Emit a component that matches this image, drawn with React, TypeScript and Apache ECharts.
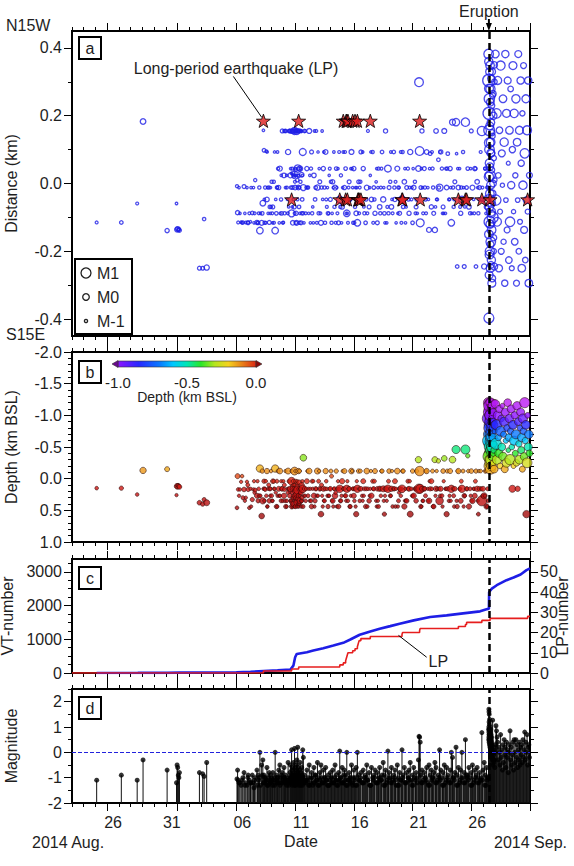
import React, { useEffect, useRef } from 'react';
import * as echarts from 'echarts';

// Time is counted in days from 2014-08-23 00:00 local time.
const DAY_MIN = 0;
const DAY_MAX = 39;
const ERUPTION_DAY = 35.5; // 2014-09-27 ~11:52

// Date axis
const dateLabelDays = [3.5, 8.5, 14.5, 19.5, 24.5, 29.5, 34.5];
const dateLabels = ['26', '31', '06', '11', '16', '21', '26'];
const majorDayTicks = [3, 9, 14, 19, 24, 29, 34, 39];
const dailyTicks = Array.from({ length: DAY_MAX + 1 }, (_, i) => i);

// Panel (a): distance along N15W
const distLabels = [-0.4, -0.2, 0, 0.2, 0.4];
const distMinor = [-0.3, -0.1, 0.1, 0.3];
// Panel (b): depth
const depthLabels = [-2, -1.5, -1, -0.5, 0, 0.5, 1];
const depthMinor = [-1.9, -1.8, -1.7, -1.6, -1.4, -1.3, -1.2, -1.1, -0.9, -0.8, -0.7, -0.6, -0.4, -0.3, -0.2, -0.1, 0.1, 0.2, 0.3, 0.4, 0.6, 0.7, 0.8, 0.9];
// Panel (c): cumulative numbers
const vtLabels = [0, 1000, 2000, 3000];
const vtMinor = [250, 500, 750, 1250, 1500, 1750, 2250, 2500, 2750, 3250];
const lpLabels = [0, 10, 20, 30, 40, 50];
const lpMinor = [5, 15, 25, 35, 45, 55];
// Panel (d): magnitude
const magLabels = [-2, -1, 0, 1, 2];
const magMinor = [-1.5, -0.5, 0.5, 1.5, 2.5];

// Hypocentres: [day, distance (km, +N15W), depth (km BSL), magnitude]
type Quake = [number, number, number, number];

const preSwarmEvents: Quake[] = [
  [2.1, -0.115, 0.15, -1.1], [4.2, -0.115, 0.15, -0.9], [5.55, -0.059, 0.25, -1.1],
  [6.05, 0.183, -0.13, -0.3], [8.1, -0.139, -0.15, -0.7], [8.9, -0.059, 0.26, -1.2],
  [8.95, -0.136, 0.12, -0.5], [9.0, -0.134, 0.12, -0.6], [9.05, -0.137, 0.11, -0.9],
  [9.1, -0.135, 0.12, -1.0], [9.15, -0.138, 0.13, -0.8], [10.85, -0.25, 0.38, -0.8],
  [11.13, -0.25, 0.4, -0.85], [11.25, -0.105, 0.33, -0.95], [11.47, -0.248, 0.38, -0.4],
];

const swarmEvents: Quake[] = [
  [14.05, -0.008, 0.46, -1.05], [14.1, -0.086, -0.04, -0.7], [14.15, -0.115, 0.17, -1.1],
  [14.4, -0.114, 0.05, -1.3], [14.65, -0.009, 0.17, -0.8], [14.8, -0.115, 0.3, -1.2],
  [15.0, -0.116, 0.17, -0.9], [15.2, -0.113, 0.16, -1.2], [15.35, -0.087, 0.33, -0.9],
  [15.5, -0.116, 0.04, -1.4], [15.6, 0.01, 0.18, -1.0], [15.75, -0.115, 0.27, -0.7],
  [15.9, -0.088, 0.16, -1.1], [16.0, -0.139, -0.16, 0.0], [16.15, -0.116, 0.59, -0.5],
  [16.25, -0.058, 0.35, -0.3], [16.3, 0.157, 0.16, -1.2], [16.35, 0.098, 0.04, -0.9],
  [16.45, -0.012, 0.17, -1.0], [16.55, 0.095, 0.27, -1.1], [16.6, -0.047, -0.12, -0.6],
  [16.7, -0.088, 0.16, -1.3], [16.8, -0.115, 0.35, -0.8], [16.9, -0.012, 0.16, -1.2],
  [17.0, 0.005, 0.27, -1.0], [17.1, -0.069, 0.04, -0.8], [17.2, -0.116, 0.16, -1.1],
  [17.3, -0.139, -0.16, 0.0], [17.4, -0.088, 0.44, -0.9], [17.5, 0.093, 0.27, -1.2],
  [17.6, -0.012, 0.16, -0.7], [17.7, 0.044, -0.12, -0.5], [17.8, -0.047, 0.35, -1.0],
  [17.9, 0.155, 0.16, -0.8], [18.0, -0.115, 0.04, -1.2], [18.05, 0.024, 0.27, -0.6],
  [18.1, -0.088, 0.17, -1.0], [18.2, 0.155, 0.44, -0.9], [18.3, -0.012, 0.35, -1.1],
  [18.4, 0.093, -0.12, -0.4], [18.45, -0.069, 0.16, -1.3],
  [18.55, 0.155, 0.27, -0.8], [18.6, 0.024, 0.16, -0.5], [18.65, -0.012, 0.35, -1.0],
  [18.7, -0.088, 0.04, 0.1], [18.72, 0.154, 0.44, -0.7], [18.75, 0.044, 0.22, -1.1],
  [18.8, -0.116, 0.16, -0.6], [18.82, 0.03, 0.3, -0.9], [18.85, -0.047, 0.1, -1.2],
  [18.88, 0.155, 0.4, -0.4], [18.9, 0.02, 0.16, -1.0], [18.93, -0.069, 0.27, -0.8],
  [18.95, 0.155, -0.12, 0.15], [18.98, 0.005, 0.35, -1.1], [19.0, -0.012, 0.2, -0.6],
  [19.02, 0.04, 0.44, -0.9], [19.05, 0.157, 0.04, -1.0], [19.08, -0.088, 0.3, -0.7],
  [19.1, 0.024, 0.16, -1.2], [19.12, -0.116, 0.38, -0.5], [19.15, 0.153, 0.25, -0.3],
  [19.18, 0.01, 0.12, -0.9], [19.2, -0.047, 0.44, -1.1], [19.22, 0.044, 0.18, 0.2],
  [19.25, 0.155, 0.32, -0.8], [19.28, -0.012, -0.12, -0.6], [19.3, 0.022, 0.4, -1.0],
  [19.33, -0.069, 0.16, -0.9], [19.36, 0.155, 0.06, -0.7], [19.4, -0.088, 0.27, -1.2],
  [19.42, 0.044, 0.35, -0.4], [19.45, 0.005, 0.16, -1.0], [19.5, -0.116, 0.22, -0.8],
  [19.53, 0.154, 0.44, -1.1], [19.56, 0.026, 0.1, -0.6], [19.6, -0.047, 0.3, -0.9],
  [19.65, 0.093, 0.16, 0.1], [19.7, -0.012, -0.33, -0.2],
  [19.8, 0.155, 0.16, -0.9], [19.9, -0.088, 0.35, -1.1], [20.0, 0.044, 0.04, -0.7],
  [20.1, -0.012, 0.27, -1.0], [20.2, 0.155, -0.12, -0.5], [20.3, -0.116, 0.16, -1.2],
  [20.4, 0.093, 0.44, -0.8], [20.5, -0.069, 0.16, -1.3], [20.6, 0.024, 0.27, -0.6],
  [20.7, -0.047, 0.35, -0.9], [20.8, 0.155, 0.16, -1.1], [20.9, -0.012, -0.12, -0.4],
  [21.0, -0.088, 0.04, -1.0], [21.1, 0.005, 0.16, -0.8], [21.2, -0.116, 0.56, -0.5],
  [21.3, 0.155, 0.27, -1.2], [21.4, 0.044, 0.16, -0.7], [21.5, -0.012, 0.35, -1.0],
  [21.6, 0.093, -0.12, -0.6], [21.7, -0.069, 0.16, -1.1], [21.8, -0.088, 0.44, -0.9],
  [21.9, 0.024, 0.27, -1.3], [22.0, -0.047, 0.16, -0.8], [22.1, -0.116, -0.04, -1.0],
  [22.2, 0.005, 0.35, -0.7], [22.3, 0.093, 0.16, -1.2], [22.4, -0.012, 0.27, -0.5],
  [22.5, 0.044, -0.12, -0.9], [22.6, -0.088, 0.16, -1.1], [22.7, -0.116, 0.44, -0.8],
  [22.8, -0.047, 0.16, 0.05], [22.9, 0.024, 0.35, -1.0], [23.0, -0.069, 0.04, -0.6],
  [23.1, 0.093, 0.16, -1.2], [23.2, -0.012, -0.12, -0.7], [23.3, 0.044, 0.27, -0.9],
  [23.4, -0.088, 0.16, 0.0], [23.5, -0.116, 0.35, -1.1], [23.6, 0.005, 0.16, -0.8],
  [23.7, -0.047, 0.44, -1.0], [23.8, 0.093, -0.12, -0.5], [23.9, -0.012, 0.16, -1.3],
  [24.0, 0.044, 0.27, -0.7], [24.1, -0.069, 0.16, -1.0], [24.2, -0.088, 0.56, -0.6],
  [24.3, -0.116, 0.16, 0.0], [24.4, 0.005, -0.12, -0.9], [24.5, -0.012, 0.35, -1.1],
  [24.6, 0.093, 0.16, -0.8], [24.7, -0.047, 0.27, -1.2], [24.8, 0.044, 0.04, -0.7],
  [24.9, -0.088, 0.16, -1.0], [25.0, -0.116, 0.44, -0.9], [25.1, -0.012, -0.12, -0.5],
  [25.2, 0.155, 0.16, -1.1], [25.3, -0.069, 0.35, -0.8], [25.4, 0.024, 0.16, -1.3],
  [25.5, -0.047, 0.27, -0.6], [25.6, 0.093, 0.04, -1.0], [25.7, -0.012, 0.16, -0.9],
  [25.8, -0.088, -0.12, -0.7], [25.9, 0.005, 0.35, -1.2], [26.0, -0.116, 0.16, -0.8],
  [26.1, 0.044, 0.44, -1.0], [26.2, -0.069, 0.16, -0.6], [26.3, -0.012, 0.27, -1.1],
  [26.4, 0.093, -0.12, -0.9], [26.5, -0.047, 0.16, -0.4], [26.6, -0.088, 0.56, -0.9],
  [26.7, 0.155, 0.16, -0.7], [26.8, -0.116, 0.35, -1.2], [26.9, 0.044, 0.16, 0.05],
  [27.0, -0.012, -0.12, -0.8], [27.1, 0.005, 0.27, -1.0], [27.2, -0.069, 0.16, -0.6],
  [27.3, -0.088, 0.44, -1.1], [27.4, 0.093, 0.16, -0.9], [27.5, -0.047, 0.04, -0.7],
  [27.6, -0.116, 0.16, -1.3], [27.7, 0.044, -0.12, -0.5], [27.8, -0.012, 0.35, -1.0],
  [27.9, -0.088, 0.16, -0.8], [28.0, 0.093, 0.27, -1.1], [28.1, -0.047, 0.16, 0.1],
  [28.2, -0.069, -0.12, -0.9], [28.3, 0.005, 0.44, -0.6], [28.4, -0.116, 0.16, -1.2],
  [28.5, -0.012, 0.35, -0.8], [28.6, 0.044, 0.04, -1.0], [28.7, -0.088, 0.16, -0.7],
  [28.8, 0.093, 0.56, -0.4], [28.9, -0.047, 0.16, -1.1], [29.0, -0.116, -0.12, -0.9],
  [29.1, -0.012, 0.27, -0.6], [29.2, 0.005, 0.16, -1.0], [29.3, -0.069, 0.35, -0.8],
  [29.4, -0.088, 0.16, -1.2], [29.5, 0.044, -0.3, -0.3], [29.55, 0.299, 0.16, 0.63],
  [29.6, 0.096, -0.12, 0.6], [29.65, -0.116, 0.16, 0.4], [29.7, -0.012, 0.44, -0.9],
  [29.8, 0.155, 0.16, -0.7], [29.9, -0.088, 0.35, -1.1],
  [30.0, 0.044, 0.16, -0.8], [30.1, -0.047, 0.27, -1.0], [30.2, 0.093, -0.12, -0.6],
  [30.3, -0.012, 0.16, -1.2], [30.4, -0.137, 0.35, -0.5], [30.5, 0.088, 0.16, -0.9],
  [30.6, -0.069, 0.04, -0.7], [30.7, 0.044, -0.12, -1.0], [30.8, -0.088, 0.44, -0.8],
  [30.9, -0.137, -0.3, -0.4], [31.0, 0.155, 0.16, -0.6], [31.1, -0.047, 0.16, -1.1],
  [31.2, 0.07, -0.28, -0.9], [31.3, -0.012, 0.35, 0.1], [31.4, 0.093, 0.16, -0.7],
  [31.5, 0.044, 0.27, -1.0], [31.6, -0.069, -0.12, -0.8], [31.7, 0.155, -0.32, -0.5],
  [31.8, -0.088, 0.16, -1.2], [31.9, -0.012, 0.56, -0.6], [32.0, 0.088, 0.16, -0.9],
  [32.1, -0.047, 0.35, -1.1], [32.2, 0.044, -0.12, -0.7], [32.3, -0.116, 0.16, 0.0],
  [32.4, 0.181, -0.3, -0.2], [32.5, -0.069, 0.27, -1.0], [32.6, 0.005, 0.16, -0.8],
  [32.7, 0.181, -0.46, 0.2], [32.8, -0.245, 0.44, -0.9], [32.9, -0.012, -0.12, -0.6],
  [33.0, 0.044, 0.16, -1.2], [33.1, -0.088, 0.35, -0.7], [33.2, -0.047, 0.16, 0.0],
  [33.3, 0.093, -0.12, -1.0], [33.4, -0.245, 0.27, -0.8], [33.5, 0.181, -0.46, 0.5],
  [33.6, -0.012, 0.16, -0.9], [33.7, 0.044, -0.36, -0.9], [33.8, -0.069, 0.44, -0.6],
  [33.9, -0.088, 0.16, -1.0], [34.0, 0.155, -0.12, -0.8], [34.1, -0.012, 0.35, -0.5],
  [34.2, -0.047, 0.16, -1.2], [34.3, 0.044, 0.27, -0.7], [34.4, -0.245, -0.12, -0.9],
  [34.5, 0.005, 0.16, -0.6], [34.6, -0.088, 0.56, -1.0], [34.7, -0.012, 0.16, -0.8],
  [34.8, 0.093, -0.12, -1.1], [34.9, 0.155, 0.35, 0.78], [35.0, -0.047, 0.16, -0.7],
  [35.1, -0.245, 0.27, -0.4], [35.2, 0.044, -0.12, -0.9], [35.3, -0.069, 0.44, -0.6],
  [35.4, -0.012, 0.16, -1.0],
];

// Smaller swarm events (M < -0.8) between the larger ones
const swarmSmallEvents: Quake[] = [
  [14.3, -0.088, 0.17, -1.2], [14.55, -0.115, 0.3, -1.0], [14.9, -0.012, 0.05, -1.3],
  [15.1, -0.088, 0.46, -1.1], [15.45, -0.012, 0.17, -1.2], [15.85, -0.116, 0.35, -0.9],
  [16.05, -0.088, 0.27, -1.3], [16.4, -0.116, 0.16, -1.0], [16.65, -0.012, 0.44, -1.2],
  [16.85, -0.069, 0.16, -0.9], [17.05, -0.088, 0.35, -1.1], [17.25, 0.093, 0.16, -1.3],
  [17.45, -0.012, 0.04, -1.0], [17.65, -0.116, 0.27, -1.2], [17.85, -0.088, 0.16, -0.9],
  [18.15, 0.155, 0.35, -1.1], [18.35, -0.047, 0.16, -1.2], [18.58, 0.155, 0.2, -1.0],
  [18.68, 0.03, 0.38, -1.2], [18.78, -0.012, 0.12, -0.9], [18.87, 0.155, 0.3, -1.1],
  [18.97, 0.024, 0.44, -1.3], [19.07, -0.116, 0.16, -1.0], [19.17, 0.155, 0.08, -1.2],
  [19.27, 0.044, 0.27, -0.9], [19.37, -0.012, 0.4, -1.1], [19.47, 0.155, 0.16, -1.3],
  [19.57, -0.088, 0.35, -1.0], [19.75, -0.116, 0.27, -1.2], [19.95, -0.012, 0.16, -1.1],
  [20.15, -0.088, 0.16, -1.3], [20.35, 0.044, 0.35, -1.0], [20.55, -0.116, 0.04, -1.2],
  [20.75, -0.012, 0.16, -0.9], [20.95, 0.093, 0.27, -1.3], [21.15, -0.088, 0.16, -1.1],
  [21.35, -0.047, 0.44, -1.2], [21.55, -0.116, 0.16, -1.0], [21.75, -0.012, 0.27, -1.3],
  [21.95, 0.044, 0.16, -1.1], [22.15, -0.088, 0.35, -1.2], [22.35, -0.069, 0.16, -1.0],
  [22.55, -0.012, 0.44, -1.3], [22.75, 0.093, 0.16, -1.1], [22.95, -0.116, 0.27, -1.2],
  [23.15, -0.047, 0.16, -0.9], [23.35, -0.088, 0.35, -1.3], [23.55, -0.012, 0.16, -1.1],
  [23.75, 0.044, 0.27, -1.2], [23.95, -0.116, 0.16, -1.0], [24.15, -0.012, 0.44, -1.3],
  [24.45, -0.088, 0.16, -1.1], [24.75, 0.093, 0.35, -1.2], [25.05, -0.047, 0.16, -1.0],
  [25.35, -0.012, 0.27, -1.3], [25.65, -0.116, 0.16, -1.1], [25.95, 0.044, 0.44, -1.2],
  [26.25, -0.088, 0.16, -1.0], [26.55, -0.012, 0.35, -1.3], [26.85, -0.069, 0.16, -1.1],
  [27.15, 0.093, 0.27, -1.2], [27.45, -0.012, 0.16, -1.0], [27.75, -0.088, 0.44, -1.3],
  [28.05, -0.116, 0.16, -1.1], [28.35, 0.044, 0.35, -1.2], [28.65, -0.047, 0.16, -1.0],
  [28.95, -0.012, 0.27, -1.3], [29.25, -0.088, 0.16, -1.1], [29.75, 0.044, 0.44, -1.2],
  [30.05, -0.012, 0.16, -1.0], [30.35, -0.047, 0.35, -1.3], [30.65, 0.093, 0.16, -1.1],
  [30.95, -0.069, 0.27, -1.2], [31.25, -0.012, 0.16, -1.0], [31.55, -0.088, 0.44, -1.3],
  [31.85, 0.044, 0.16, -1.1], [32.15, -0.047, 0.27, -1.2], [32.45, -0.012, 0.16, -1.0],
  [32.75, 0.088, 0.35, -1.3], [33.05, -0.069, 0.16, -1.1], [33.35, -0.012, 0.44, -1.2],
  [33.65, -0.047, 0.16, -1.0], [33.95, 0.044, 0.27, -1.3], [34.25, -0.088, 0.16, -1.1],
  [34.55, -0.012, 0.35, -1.2], [34.85, -0.047, 0.16, -1.0], [35.15, 0.044, 0.27, -1.3],
  [35.35, -0.012, 0.44, -1.1],
];

// Micro-events filling the streaks of the swarm
const swarmMicroEvents: Quake[] = [
  [14.22, -0.012, 0.27, -1.2], [14.48, -0.116, -0.04, -1.1], [14.72, -0.088, 0.35, -1.3],
  [14.97, -0.115, 0.1, -1.0], [15.25, -0.012, 0.44, -1.2], [15.55, -0.088, 0.22, -1.1],
  [15.8, -0.116, 0.04, -1.3], [15.95, -0.012, 0.27, -1.0], [16.2, -0.088, -0.12, -0.9],
  [16.38, -0.047, 0.35, -1.2], [16.5, -0.116, 0.04, -1.1], [16.62, 0.093, 0.44, -1.3],
  [16.75, -0.012, 0.1, -1.0], [16.88, -0.088, 0.27, -1.2], [16.95, -0.069, -0.12, -1.1],
  [17.08, -0.116, 0.35, -1.3], [17.18, 0.005, 0.04, -1.0], [17.35, -0.047, 0.22, -1.2],
  [17.48, -0.012, 0.44, -1.1], [17.55, 0.044, -0.12, -1.0], [17.72, -0.088, 0.27, -1.3],
  [17.82, 0.024, 0.04, -1.2], [17.95, -0.116, 0.35, -1.1], [18.08, 0.155, 0.1, -1.0],
  [18.18, -0.012, -0.12, -1.2], [18.28, 0.024, 0.44, -1.3], [18.38, -0.088, 0.22, -1.1],
  [18.48, 0.155, 0.04, -1.0], [18.62, 0.044, 0.35, -1.2], [18.71, 0.155, -0.12, -1.1],
  [18.76, -0.069, 0.44, -1.3], [18.84, 0.024, 0.04, -1.0], [18.91, 0.155, 0.27, -1.2],
  [18.96, -0.088, 0.1, -1.1], [19.03, 0.044, -0.12, -1.3], [19.11, 0.155, 0.35, -1.0],
  [19.19, -0.012, 0.04, -1.2], [19.24, 0.024, 0.27, -1.1], [19.31, 0.155, 0.44, -1.3],
  [19.38, -0.116, -0.12, -1.0], [19.44, 0.044, 0.22, -1.2], [19.52, 0.155, 0.35, -1.1],
  [19.62, 0.024, 0.04, -1.3], [19.68, -0.088, 0.44, -1.0], [19.85, 0.155, 0.27, -1.2],
  [20.05, -0.012, -0.12, -1.1], [20.25, 0.024, 0.35, -1.3], [20.45, -0.088, 0.04, -1.0],
  [20.65, 0.155, 0.44, -1.2], [20.85, -0.116, 0.27, -1.1], [21.05, 0.044, -0.12, -1.3],
  [21.25, -0.012, 0.1, -1.0], [21.45, 0.093, 0.35, -1.2], [21.65, -0.047, 0.04, -1.1],
  [21.85, -0.088, 0.27, -1.3], [22.05, 0.005, -0.12, -1.0], [22.25, -0.012, 0.44, -1.2],
  [22.45, -0.116, 0.22, -1.1], [22.65, 0.044, 0.04, -1.3], [22.85, -0.069, 0.35, -1.0],
  [23.05, -0.012, -0.12, -1.2], [23.25, 0.093, 0.27, -1.1], [23.45, -0.088, 0.04, -1.3],
  [23.65, -0.047, 0.44, -1.0], [23.85, 0.044, -0.12, -1.2], [24.05, -0.116, 0.35, -1.1],
  [24.25, -0.012, 0.04, -1.3], [24.55, 0.005, -0.12, -1.0], [24.85, -0.069, 0.27, -1.2],
  [25.15, -0.088, 0.44, -1.1], [25.45, 0.093, -0.12, -1.3], [25.75, -0.047, 0.04, -1.0],
  [26.05, -0.012, 0.35, -1.2], [26.35, 0.044, -0.12, -1.1], [26.65, -0.116, 0.27, -1.3],
  [26.95, -0.088, 0.04, -1.0], [27.25, -0.047, -0.12, -1.2], [27.55, 0.005, 0.44, -1.1],
  [27.85, -0.012, 0.22, -1.3], [28.15, 0.093, -0.12, -1.0], [28.45, -0.069, 0.35, -1.2],
  [28.75, -0.012, 0.04, -1.1], [29.05, 0.044, 0.27, -1.3], [29.35, -0.047, -0.12, -1.0],
  [29.85, -0.012, 0.35, -1.2], [30.15, -0.088, -0.12, -1.1], [30.45, 0.044, 0.04, -1.3],
  [30.75, -0.012, 0.44, -1.0], [31.05, -0.047, -0.12, -1.2], [31.35, 0.093, 0.27, -1.1],
  [31.65, -0.088, 0.04, -1.3], [31.95, 0.044, -0.12, -1.0], [32.25, -0.012, 0.35, -1.2],
  [32.55, -0.047, 0.44, -1.1], [32.85, 0.044, -0.12, -1.3], [33.15, -0.012, 0.04, -1.0],
  [33.45, -0.069, 0.27, -1.2], [33.75, -0.047, -0.12, -1.1], [34.05, -0.088, 0.35, -1.3],
  [34.35, 0.044, 0.04, -1.0], [34.65, -0.047, -0.12, -1.2], [34.95, -0.012, 0.27, -1.1],
  [35.25, -0.088, -0.12, -1.3], [35.45, 0.044, 0.35, -1.0],
];

const postEruptionEvents: Quake[] = [
  [35.48, 0.382, -1.2, 0.9], [35.5, -0.397, -0.7, 1.0], [35.5, 0.304, -0.95, 1.7],
  [35.51, 0.207, -0.6, 1.6], [35.52, 0.157, -1.05, 1.2], [35.53, -0.05, -0.35, 1.5],
  [35.54, 0.25, -0.8, 1.1], [35.55, 0.1, -0.5, 0.9], [35.56, -0.113, -1.15, 1.3],
  [35.57, 0.06, -0.25, 0.7], [35.58, -0.2, -0.9, 0.8], [35.6, 0.348, -0.65, 0.6],
  [35.61, 0.024, -1.0, 1.0], [35.62, -0.25, -0.45, 0.5], [35.63, 0.279, -0.15, 0.8],
  [35.64, -0.005, -0.75, 0.4], [35.65, 0.122, -1.2, 0.6], [35.66, -0.172, -0.3, 0.9],
  [35.67, 0.18, -0.85, 0.3], [35.68, -0.083, -0.55, 0.7], [35.7, 0.089, -1.1, 0.2],
  [35.71, -0.226, -0.4, 0.5], [35.72, 0.23, -0.7, 0.0], [35.73, -0.137, -0.2, 0.6],
  [35.74, 0.04, -0.95, -0.2], [35.75, -0.294, -0.6, 0.4], [35.77, 0.33, -1.15, 0.1],
  [35.78, -0.03, -0.35, 0.3], [35.8, 0.14, -0.8, -0.3], [35.82, -0.1, -0.5, 1.27],
  [35.84, 0.265, -1.05, 0.0], [35.86, -0.06, -0.25, -0.5], [35.88, 0.2, -0.65, 0.2],
  [35.9, -0.16, -0.9, -0.1], [35.92, 0.075, -0.45, -0.4], [35.95, -0.245, -0.15, 0.1],
  [35.97, 0.3, -1.2, -0.3], [36.0, 0.01, -0.75, -0.6],
  [36.05, 0.382, -1.18, 0.3], [36.1, -0.049, -0.55, 1.05], [36.15, 0.207, -0.85, 0.85],
  [36.2, -0.113, -0.3, 0.6], [36.25, 0.304, -1.0, 0.4], [36.3, 0.024, -0.65, -0.3],
  [36.35, -0.25, -0.4, 0.2], [36.4, 0.157, -1.1, 0.0], [36.45, -0.083, -0.2, -0.5],
  [36.5, 0.348, -0.75, 0.7], [36.55, -0.2, -0.95, -0.2], [36.6, 0.089, -0.5, 0.1],
  [36.65, -0.005, -1.15, -0.7], [36.7, 0.25, -0.35, 0.3], [36.75, -0.172, -0.7, -0.4],
  [36.8, 0.122, -0.9, 0.5], [36.85, -0.294, -0.15, -0.1], [36.9, 0.382, -1.05, 0.2],
  [36.95, -0.049, -0.6, -0.6], [37.0, 0.207, -0.25, 0.4], [37.05, -0.137, -0.8, -0.2],
  [37.1, 0.304, -1.2, 0.1], [37.15, 0.06, -0.45, -0.8], [37.2, -0.226, -0.65, 0.0],
  [37.25, 0.157, -0.95, 0.3], [37.3, -0.113, -0.3, 0.85], [37.35, 0.279, -0.75, -0.3],
  [37.4, -0.005, -1.1, 0.2], [37.45, -0.25, -0.5, -0.5], [37.5, 0.1, 0.16, -0.1],
  [37.55, 0.348, -0.85, 0.4], [37.6, -0.083, -0.2, -0.7], [37.65, 0.207, -0.6, 0.5],
  [37.7, -0.172, -1.0, 0.0], [37.75, 0.024, -0.4, -0.4], [37.8, 0.25, -0.7, 0.5],
  [37.85, -0.294, -0.25, -0.2], [37.9, 0.122, -1.15, 0.3], [37.95, -0.049, 0.16, -0.6],
  [38.0, 0.382, -0.9, 0.1], [38.05, -0.2, -0.55, -0.3], [38.1, 0.157, -0.3, 0.4],
  [38.15, -0.113, -0.8, -0.5], [38.2, 0.304, -1.05, 0.2], [38.25, 0.06, -0.45, -0.1],
  [38.3, -0.25, -0.65, 0.3], [38.35, 0.207, -0.15, -0.4], [38.4, -0.005, -0.95, 0.5],
  [38.45, 0.348, -0.75, -0.2], [38.5, -0.137, -0.35, 0.1], [38.55, 0.089, -1.2, 0.8],
  [38.6, -0.226, -0.6, -0.3], [38.65, 0.25, -0.85, 0.4], [38.7, -0.049, 0.56, 0.0],
  [38.75, 0.157, -0.25, 0.7], [38.8, -0.083, -1.0, -0.5], [38.85, 0.304, -0.5, 0.2],
  [38.9, -0.294, -0.7, 0.3], [38.95, 0.024, -0.4, -0.2],
];

// Burst in the first hours after the eruption onset
const postEruptionBurst: Quake[] = [
  [35.49, 0.36, -1.1, 0.5], [35.5, 0.02, -0.55, 0.8], [35.5, -0.15, -0.85, 0.6],
  [35.51, 0.28, -0.4, 0.7], [35.52, -0.27, -1.0, 0.4], [35.53, 0.12, -0.2, 0.9],
  [35.54, -0.07, -1.2, 0.5], [35.55, 0.33, -0.6, 0.3], [35.56, -0.21, -0.3, 0.7],
  [35.57, 0.17, -0.95, 0.4], [35.58, -0.03, -0.7, 0.6], [35.59, 0.05, -1.05, 0.2],
  [35.6, -0.12, -0.45, 0.5], [35.62, 0.24, -0.25, 0.3], [35.64, -0.18, -0.8, 0.1],
  [35.66, 0.09, -0.65, 0.4], [35.68, -0.24, -1.15, 0.0], [35.7, 0.31, -0.5, 0.2],
  [35.72, -0.09, -0.9, 0.3], [35.75, 0.15, -0.35, -0.1], [35.78, -0.28, -0.75, 0.1],
  [35.81, 0.26, -1.0, -0.2], [35.85, 0.0, -0.55, 0.0], [35.9, -0.2, -0.4, -0.3],
  [35.95, 0.35, -0.85, 0.0],
];

// Long-period events: [day, distance (km)]
const lpEvents: [number, number][] = [
  [16.3, 0.185], [18.7, -0.047], [19.3, 0.185], [22.8, -0.047], [23.1, 0.185],
  [23.3, -0.047], [23.35, 0.185], [23.4, 0.185], [23.45, -0.047], [23.5, 0.185],
  [23.9, 0.185], [24.1, 0.185], [24.3, 0.185], [24.35, -0.047], [24.4, -0.047],
  [24.45, -0.047], [24.6, -0.047], [25.4, 0.185], [28.1, -0.047], [28.15, -0.047],
  [29.6, 0.185], [29.65, -0.047], [32.9, -0.047], [33.5, -0.047], [33.6, -0.047],
  [34.9, -0.047], [35.6, -0.047], [38.8, -0.047],
];

// Cumulative number of VT earthquakes: [day, count]
const vtCumulative: [number, number][] = [
  [2.1, 1], [4.2, 2], [5.6, 3], [6.1, 4], [8.1, 5], [9.2, 11], [11.5, 15], [14.0, 18],
  [15.2, 35], [16.3, 60], [17.5, 80], [18.6, 105], [18.85, 218], [19.0, 466],
  [19.14, 566], [20.0, 615], [20.55, 665], [21.4, 735], [22.26, 815], [23.1, 895],
  [23.7, 993], [24.5, 1133], [25.4, 1231], [26.2, 1312], [27.1, 1390], [27.9, 1461],
  [29.1, 1560], [30.5, 1658], [31.9, 1709], [33.3, 1768], [34.75, 1828], [35.3, 1888],
  [35.5, 1908], [35.52, 2403], [35.75, 2503], [36.17, 2603], [37.0, 2752], [37.6, 2832],
  [38.2, 2922], [38.7, 3050], [39.0, 3101],
];

const allEvents: Quake[] = [
  ...preSwarmEvents, ...swarmEvents, ...swarmSmallEvents, ...swarmMicroEvents,
  ...postEruptionEvents, ...postEruptionBurst,
].sort((p, q) => p[0] - q[0]);

const lpCumulative: [number, number][] = [[DAY_MIN, 0]];
lpEvents.forEach((e, i) => lpCumulative.push([e[0], i + 1]));
lpCumulative.push([DAY_MAX, lpEvents.length]);

// Depth colour scale (km BSL)
const depthStops: [number, string][] = [
  [-1.25, '#c81ef0'], [-1.0, '#8c14ff'], [-0.85, '#2828ff'], [-0.7, '#0a78ff'],
  [-0.6, '#00c8ff'], [-0.5, '#00e6b4'], [-0.4, '#28e628'], [-0.3, '#b4e61e'],
  [-0.2, '#f5d21e'], [-0.1, '#e88018'], [0.0, '#dc2814'], [0.2, '#cc1414'], [0.6, '#a00a0a'],
];

const FONT = "'Liberation Sans', Arial, Helvetica, sans-serif";
const TXT = '#1e1e1e';
const VT_BLUE = '#1e1ee6';
const LP_RED = '#e61e1e';
const STAR =
  'path://M100,0 L123.5,67.6 L195.1,69.1 L138,112.4 L158.8,180.9 L100,140 L41.2,180.9 L62,112.4 L4.9,69.1 L76.5,67.6 Z';

function hexRgb(h: string): number[] {
  return [1, 3, 5].map((i) => parseInt(h.slice(i, i + 2), 16));
}

function depthColor(d: number): string {
  if (d <= depthStops[0][0]) return depthStops[0][1];
  const last = depthStops[depthStops.length - 1];
  if (d >= last[0]) return last[1];
  for (let i = 1; i < depthStops.length; i++) {
    const [v1, c1] = depthStops[i];
    if (d <= v1) {
      const [v0, c0] = depthStops[i - 1];
      const t = (d - v0) / (v1 - v0);
      const a = hexRgb(c0);
      const b = hexRgb(c1);
      const m = a.map((x, k) => Math.round(x + (b[k] - x) * t));
      return `rgb(${m[0]},${m[1]},${m[2]})`;
    }
  }
  return last[1];
}

const magSize = (m: number) => Math.max(2.4, 6.6 + 3.4 * m);
const depthDotSize = (m: number) => Math.max(3.4, 7.4 + 3.4 * m);

const gridBox = {
  left: 72, right: 44, show: true, borderColor: '#000', borderWidth: 2,
  backgroundColor: 'transparent', containLabel: false, outerBoundsMode: 'none',
};
const grids = [
  { ...gridBox, top: 31, height: 305 },
  { ...gridBox, top: 352, height: 190 },
  { ...gridBox, top: 559, height: 114 },
  { ...gridBox, top: 689, height: 114 },
];

const labelStyle = { color: TXT, fontSize: 16, fontFamily: FONT };

function xAxesFor(grid: number, withLabels: boolean) {
  const base = {
    type: 'value', gridIndex: grid, min: DAY_MIN, max: DAY_MAX,
    splitLine: { show: false }, axisLine: { show: false, onZero: false },
  };
  const ticks = (position: string, length: number, values: number[]) => ({
    ...base, position,
    axisTick: { show: true, inside: false, length, customValues: values, lineStyle: { color: '#000', width: 1 } },
    axisLabel: { show: false },
  });
  const main: any = ticks('bottom', 8, majorDayTicks);
  if (withLabels) {
    main.axisLabel = {
      show: true, ...labelStyle, margin: 11, customValues: dateLabelDays,
      formatter: (v: number) => dateLabels[dateLabelDays.indexOf(v)] ?? '',
    };
    main.name = 'Date';
    main.nameLocation = 'middle';
    main.nameGap = 30;
    main.nameTextStyle = { ...labelStyle };
  }
  return [main, ticks('bottom', 4, dailyTicks), ticks('top', 8, majorDayTicks), ticks('top', 4, dailyTicks)];
}

type Scale = {
  min: number; max: number; inverse?: boolean; labels: number[]; minor: number[];
  fmt: (v: number) => string; name?: string;
};

function yAxesFor(grid: number, left: Scale, right?: Scale) {
  const axis = (s: Scale, position: string, length: number, values: number[], labelled: boolean) => ({
    type: 'value', gridIndex: grid, position, min: s.min, max: s.max, inverse: !!s.inverse,
    splitLine: { show: false }, axisLine: { show: false, onZero: false },
    axisTick: { show: true, inside: false, length, customValues: values, lineStyle: { color: '#000', width: 1 } },
    axisLabel: labelled
      ? { show: true, ...labelStyle, margin: 10, customValues: s.labels, formatter: (v: number) => s.fmt(v) }
      : { show: false },
  });
  const leftMain: any = axis(left, 'left', 8, left.labels, true);
  leftMain.name = left.name;
  leftMain.nameLocation = 'middle';
  leftMain.nameGap = 53;
  leftMain.nameTextStyle = { ...labelStyle };
  const r = right ?? left;
  const rightMain: any = axis(r, 'right', 8, r.labels, !!right);
  return [leftMain, axis(left, 'left', 4, left.minor, false), rightMain, axis(r, 'right', 4, r.minor, false)];
}

const eruptionMark = () => ({
  symbol: ['none', 'none'], silent: true, label: { show: false },
  lineStyle: { color: '#000', width: 2.5, type: [7, 4] },
  data: [{ xAxis: ERUPTION_DAY }],
});

function buildOption(): any {
  const fmt1 = (v: number) => v.toFixed(1);
  const fmt0 = (v: number) => String(Math.round(v));
  return {
    animation: false,
    backgroundColor: '#fff',
    textStyle: { fontFamily: FONT },
    grid: grids,
    xAxis: [...xAxesFor(0, false), ...xAxesFor(1, false), ...xAxesFor(2, false), ...xAxesFor(3, true)],
    yAxis: [
      ...yAxesFor(0, { min: -0.45, max: 0.45, labels: distLabels, minor: distMinor, fmt: fmt1, name: 'Distance (km)' }),
      ...yAxesFor(1, { min: -2, max: 1, inverse: true, labels: depthLabels, minor: depthMinor, fmt: fmt1, name: 'Depth (km BSL)' }),
      ...yAxesFor(
        2,
        { min: 0, max: 3380, labels: vtLabels, minor: vtMinor, fmt: fmt0, name: 'VT-number' },
        { min: 0, max: 56.33, labels: lpLabels, minor: lpMinor, fmt: fmt0 },
      ),
      ...yAxesFor(3, { min: -2, max: 2.5, labels: magLabels, minor: magMinor, fmt: fmt0, name: 'Magnitude' }),
    ],
    series: [
      // (a) distance
      { type: 'line', xAxisIndex: 0, yAxisIndex: 0, data: [], z: 1, markLine: eruptionMark() },
      {
        name: 'VT', type: 'scatter', xAxisIndex: 0, yAxisIndex: 0, z: 3,
        data: allEvents.map((e) => [e[0], e[1], e[3]]),
        symbol: 'circle', symbolSize: (v: number[]) => magSize(v[2]),
        itemStyle: { color: 'rgba(0,0,0,0)', borderColor: VT_BLUE, borderWidth: 1.3 },
      },
      {
        name: 'LP', type: 'scatter', xAxisIndex: 0, yAxisIndex: 0, z: 5,
        data: lpEvents, symbol: STAR, symbolSize: 14, symbolKeepAspect: true,
        itemStyle: { color: '#dc1e1e', borderColor: '#000', borderWidth: 1 },
        markLine: {
          symbol: ['none', 'none'], silent: true, label: { show: false },
          lineStyle: { color: '#000', width: 1, type: 'solid' },
          data: [[{ coord: [13.74, 0.316] }, { coord: [16.16, 0.195] }]],
        },
        markPoint: {
          silent: true, symbol: 'circle', symbolSize: 1, itemStyle: { color: 'rgba(0,0,0,0)' },
          data: [{ coord: [13.97, 0.338], label: { show: true, position: 'inside', formatter: 'Long-period earthquake (LP)', ...labelStyle } }],
        },
      },
      // (b) depth
      { type: 'line', xAxisIndex: 4, yAxisIndex: 4, data: [], z: 1, markLine: eruptionMark() },
      {
        name: 'Depth', type: 'scatter', xAxisIndex: 4, yAxisIndex: 4, z: 3,
        data: allEvents.map((e) => [e[0], e[2], e[3]]),
        symbol: 'circle', symbolSize: (v: number[]) => depthDotSize(v[2]),
        itemStyle: { color: (p: any) => depthColor(p.value[1]), borderColor: '#2a0a0a', borderWidth: 0.7 },
      },
      // (c) cumulative numbers
      {
        name: 'VT-number', type: 'line', xAxisIndex: 8, yAxisIndex: 8, z: 3,
        data: vtCumulative, symbol: 'none', lineStyle: { color: VT_BLUE, width: 2.6 },
        markLine: eruptionMark(),
      },
      {
        name: 'LP-number', type: 'line', xAxisIndex: 8, yAxisIndex: 10, z: 4, step: 'end',
        data: lpCumulative, symbol: 'none', lineStyle: { color: LP_RED, width: 1.6 },
        markLine: {
          symbol: ['none', 'none'], silent: true, label: { show: false },
          lineStyle: { color: '#000', width: 1, type: 'solid' },
          data: [[{ coord: [27.8, 18.6] }, { coord: [30.2, 7.8] }]],
        },
        markPoint: {
          silent: true, symbol: 'circle', symbolSize: 1, itemStyle: { color: 'rgba(0,0,0,0)' },
          data: [{ coord: [31.2, 5.6], label: { show: true, position: 'inside', formatter: 'LP', ...labelStyle } }],
        },
      },
      // (d) magnitude stems
      {
        type: 'custom', xAxisIndex: 12, yAxisIndex: 12, z: 2, clip: true,
        encode: { x: 0, y: 1 },
        data: allEvents.map((e) => [e[0], e[3]]),
        renderItem: (_: any, api: any) => {
          const x = api.value(0);
          const m = api.value(1);
          const p0 = api.coord([x, -2]);
          const p1 = api.coord([x, m]);
          return {
            type: 'line',
            shape: { x1: p0[0], y1: p0[1], x2: p1[0], y2: p1[1] },
            style: { stroke: '#111', lineWidth: 1 },
          };
        },
      },
      {
        name: 'Magnitude', type: 'scatter', xAxisIndex: 12, yAxisIndex: 12, z: 4,
        data: allEvents.map((e) => [e[0], e[3]]),
        symbol: 'circle', symbolSize: 5, itemStyle: { color: '#000' },
        markLine: {
          symbol: ['none', 'none'], silent: true, label: { show: false },
          data: [
            { yAxis: 0, lineStyle: { color: '#2222dd', width: 1.2, type: [4, 2] } },
            { xAxis: ERUPTION_DAY, lineStyle: { color: '#000', width: 2.5, type: [7, 4] } },
          ],
        },
      },
    ],
  };
}

function buildGraphics(ex: number): any[] {
  const g: any[] = [];
  const text = (x: number, y: number, s: string, align = 'left', size = 16) => ({
    type: 'text', x, y, silent: true,
    style: { text: s, fill: TXT, font: `${size}px ${FONT}`, textAlign: align, textVerticalAlign: 'middle' },
  });
  // panel letters
  [['a', 37], ['b', 361], ['c', 567], ['d', 697]].forEach(([s, y]) => {
    g.push({ type: 'rect', shape: { x: 79, y: y as number, width: 22, height: 22 }, style: { fill: '#fff', stroke: '#000', lineWidth: 2 }, z: 50 });
    g.push({ ...text(90, (y as number) + 11, s as string, 'center'), z: 51 });
  });
  g.push(text(6, 25, 'N15W'));
  g.push(text(6, 334, 'S15E'));
  // right-hand axis title of panel (c)
  g.push({ ...text(562, 616, 'LP-number', 'center'), rotation: Math.PI / 2 });
  // magnitude legend
  g.push({ type: 'rect', shape: { x: 75, y: 259, width: 57, height: 75 }, style: { fill: '#fff', stroke: '#000', lineWidth: 2 }, z: 50 });
  [[1, 'M1', 273], [0, 'M0', 297], [-1, 'M-1', 321]].forEach(([m, s, y]) => {
    g.push({ type: 'circle', shape: { cx: 86, cy: y as number, r: magSize(m as number) / 2 }, style: { fill: 'none', stroke: '#222', lineWidth: 1.3 }, z: 51 });
    g.push({ ...text(97, y as number, s as string), z: 51 });
  });
  // depth colour bar
  const x0 = 118;
  const x1 = 256;
  const cy = 364;
  const stops = depthStops
    .filter(([v]) => v >= -1 && v <= 0)
    .map(([v, c]) => ({ offset: v + 1, color: c }));
  g.push({ type: 'rect', shape: { x: x0, y: cy - 3, width: x1 - x0, height: 6 }, style: { fill: new echarts.graphic.LinearGradient(0, 0, 1, 0, stops), stroke: '#333', lineWidth: 0.6 }, z: 50 });
  g.push({ type: 'polygon', shape: { points: [[x0, cy - 3.5], [x0 - 6, cy], [x0, cy + 3.5]] }, style: { fill: '#6a0a8c', stroke: '#333', lineWidth: 0.6 }, z: 50 });
  g.push({ type: 'polygon', shape: { points: [[x1, cy - 3.5], [x1 + 6, cy], [x1, cy + 3.5]] }, style: { fill: '#8c0a0a', stroke: '#333', lineWidth: 0.6 }, z: 50 });
  g.push(text(x0, 382, '-1.0', 'center', 15));
  g.push(text((x0 + x1) / 2, 382, '-0.5', 'center', 15));
  g.push(text(x1, 382, '0.0', 'center', 15));
  g.push(text((x0 + x1) / 2, 397, 'Depth (km BSL)', 'center', 14));
  // date captions
  g.push(text(32, 842, '2014 Aug.'));
  g.push(text(567, 842, '2014 Sep.', 'right'));
  // eruption marker above panel (a)
  g.push(text(ex, 11, 'Eruption', 'center'));
  g.push({ type: 'line', shape: { x1: ex, y1: 19, x2: ex, y2: 25 }, style: { stroke: '#000', lineWidth: 2 } });
  g.push({ type: 'polygon', shape: { points: [[ex - 3, 23], [ex + 3, 23], [ex, 31]] }, style: { fill: '#000' } });
  return g;
}

export default function App() {
  const ref = useRef<HTMLDivElement>(null);
  useEffect(() => {
    if (!ref.current) return;
    const chart = echarts.init(ref.current, undefined, { renderer: 'svg' });
    chart.setOption(buildOption());
    const ex = chart.convertToPixel({ xAxisIndex: 0 }, ERUPTION_DAY) as unknown as number;
    chart.setOption({ graphic: buildGraphics(ex) });
    return () => chart.dispose();
  }, []);
  return (
    <div
      ref={ref}
      style={{ position: 'fixed', left: 0, top: 0, width: 574, height: 866, background: '#fff' }}
    />
  );
}
